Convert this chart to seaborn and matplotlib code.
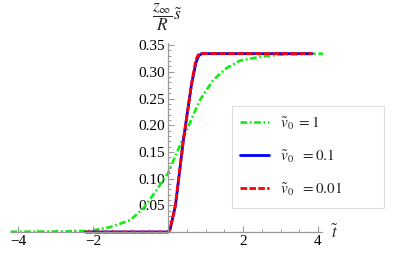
import matplotlib
matplotlib.use('Agg')
import numpy as np
import seaborn as sns
import matplotlib.pyplot as plt
from matplotlib.ticker import FixedLocator
from matplotlib.patches import Rectangle

# values
green_t = [-4.2, -3.0, -2.5, -2.08, -1.55, -1.01, -0.66, -0.3, 0.0, 0.19, 0.5, 0.85, 1.21, 1.56, 1.92, 2.45, 2.99, 3.5, 4.13]
green_s = [0.0005, 0.001, 0.0015, 0.002, 0.009, 0.022, 0.044, 0.079, 0.11, 0.141, 0.191, 0.247, 0.285, 0.307, 0.321, 0.328, 0.332, 0.333, 0.334]

blue_t = [-2.2, 0.0, 0.06, 0.2, 0.41, 0.63, 0.75, 0.82, 0.9, 3.85]
blue_s = [0.0, 0.0, 0.006, 0.05, 0.172, 0.278, 0.318, 0.330, 0.334, 0.334]

red_t = [-2.2, 0.0, 0.05, 0.19, 0.41, 0.63, 0.74, 0.8, 0.85, 3.85]
red_s = [0.0, 0.0, 0.004, 0.047, 0.172, 0.278, 0.322, 0.331, 0.334, 0.334]

labels = [r'$\tilde{v}_0\ = 1$', r'$\tilde{v}_0\ \ = 0.1$', r'$\tilde{v}_0\ \ = 0.01$']
xticks = [-4, -2, 2, 4]
yticks = [0.05, 0.10, 0.15, 0.20, 0.25, 0.30, 0.35]

sns.set_style('white')
plt.rcParams['font.family'] = ['Liberation Serif', 'DejaVu Serif']
plt.rcParams['mathtext.fontset'] = 'stix'

fig = plt.figure(figsize=(4.15, 2.6), dpi=100)
ax = fig.add_axes([0, 0, 1, 1])
ax.set_xlim(-168 / 37.5, (415 - 168) / 37.5)
ax.set_ylim(-28 / 534, (260 - 28) / 534)

sns.lineplot(x=green_t, y=green_s, ax=ax, color='#11ee11', lw=1.9,
             linestyle=(0, (2.5, 1.0, 0.7, 1.0)), label=labels[0], sort=False)
sns.lineplot(x=blue_t, y=blue_s, ax=ax, color='#0000ff', lw=2.0,
             label=labels[1], sort=False)
sns.lineplot(x=red_t, y=red_s, ax=ax, color='#ff0000', lw=2.0,
             linestyle=(0, (2.4, 0.8)), label=labels[2], sort=False)

gray = '#999999'
for s in ['top', 'right']:
    ax.spines[s].set_visible(False)
ax.spines['left'].set_position(('data', 0))
ax.spines['bottom'].set_position(('data', 0))
ax.spines['left'].set_bounds(0, 0.354)
ax.spines['bottom'].set_bounds(-4.2, 4.1)
for s in ['left', 'bottom']:
    ax.spines[s].set_color(gray)
    ax.spines[s].set_linewidth(0.9)

ax.xaxis.set_major_locator(FixedLocator(xticks))
ax.xaxis.set_minor_locator(FixedLocator(np.arange(-4, 4.01, 0.5)))
ax.yaxis.set_major_locator(FixedLocator(yticks))
ax.yaxis.set_minor_locator(FixedLocator(np.arange(0.01, 0.351, 0.01)))
ax.set_xticklabels(['\u22124', '\u22122', '2', '4'])
ax.set_yticklabels(['%.2f' % v for v in yticks])
ax.tick_params(which='both', direction='in', bottom=True, left=True, color=gray,
               labelcolor='black', labelsize=11, pad=2)
ax.tick_params(which='major', length=4, width=0.8)
ax.tick_params(which='minor', length=2.5, width=0.7)

ax.text(-0.02, 0.402, r'$\dfrac{z_\infty}{R}\tilde{s}$', ha='center', va='center', fontsize=12.5)
ax.text(4.45, -0.002, r'$\tilde{t}$', ha='center', va='center', fontsize=12)

leg = ax.legend(loc='upper left', bbox_to_anchor=(232 / 415, 1 - 106 / 260), frameon=False,
                fontsize=11, handlelength=1.85, labelspacing=1.05, borderpad=0.55,
                handletextpad=0.75, borderaxespad=0)
fig.patches.append(Rectangle((232 / 415, 1 - 208 / 260), 152 / 415, 102 / 260,
                             transform=fig.transFigure, fill=False,
                             edgecolor='#dddddd', lw=0.8))

ax.set_xlabel('')
ax.set_ylabel('')
fig.savefig('out.png', dpi=100)
